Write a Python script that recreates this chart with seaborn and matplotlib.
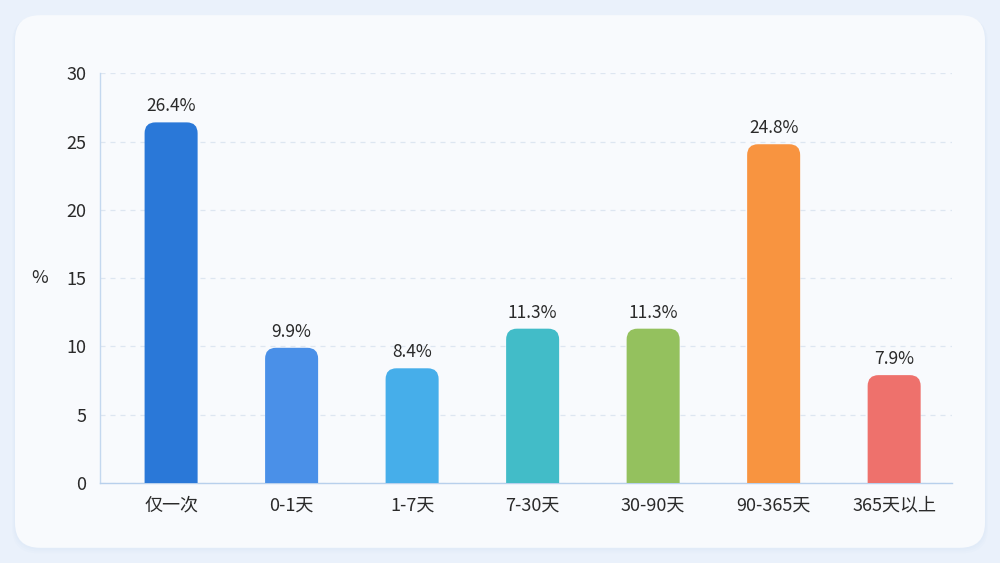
import pandas as pd
import matplotlib.pyplot as plt
import seaborn as sns
from matplotlib.patches import FancyBboxPatch

# data
categories = ['仅一次', '0-1天', '1-7天', '7-30天', '30-90天', '90-365天', '365天以上']
shares = [26.4, 9.9, 8.4, 11.3, 11.3, 24.8, 7.9]
bar_colors = ['#2a78d8', '#4a90e8', '#46aeea', '#42bcc8', '#94c15e', '#f89440', '#ee716c']

df = pd.DataFrame({'cat': categories, 'share': shares})

sns.set_theme(style='white')
plt.rcParams['font.family'] = ['Noto Sans CJK SC', 'DejaVu Sans']

fig = plt.figure(figsize=(10, 5.63), dpi=100)
fig.patch.set_facecolor('#eaf1fb')

# soft shadow + card background (below the axes)
for i, a in enumerate([0.05, 0.05, 0.06]):
    d = 0.002 * (i + 1)
    sh = FancyBboxPatch((0.015 - d / 2, 0.027 - d * 1.6), 0.97 + d, 0.946 + d,
                        boxstyle='round,pad=0,rounding_size=0.026',
                        mutation_aspect=1000 / 563,
                        transform=fig.transFigure, facecolor='#b9cfec',
                        alpha=a, edgecolor='none', zorder=-11)
    fig.patches.append(sh)
card = FancyBboxPatch((0.015, 0.027), 0.97, 0.946,
                      boxstyle='round,pad=0,rounding_size=0.025',
                      mutation_aspect=1000 / 563,
                      transform=fig.transFigure, facecolor='#f8fafd',
                      edgecolor='none', zorder=-10)
fig.patches.append(card)

ax = fig.add_axes([0.10, 0.142, 0.852, 0.728])
ax.set_facecolor('none')

sns.barplot(data=df, x='cat', y='share', hue='cat', palette=bar_colors,
            width=0.44, saturation=1, legend=False, ax=ax)

ax.set_xlim(-0.59, 6.48)
ax.set_ylim(0, 30)

# replace plain bars with round-topped ones
px_x = 852 / 7.07
px_y = 410 / 30
for p in list(ax.patches):
    x0, w, h = p.get_x(), p.get_width(), p.get_height()
    col = p.get_facecolor()
    p.set_visible(False)
    rb = FancyBboxPatch((x0, -2), w, h + 2,
                        boxstyle='round,pad=0,rounding_size=0.09',
                        mutation_aspect=px_x / px_y,
                        facecolor=col, edgecolor='none', zorder=3)
    ax.add_patch(rb)
    ax.annotate(f'{h:.1f}%', (x0 + w / 2, h), xytext=(0, 5),
                textcoords='offset points', ha='center', va='bottom',
                fontsize=12.5, color='#2a2a2a')

ax.set_yticks([0, 5, 10, 15, 20, 25, 30])
ax.yaxis.grid(True, linestyle=(0, (4, 4)), color='#dde6f1', linewidth=0.9)
ax.set_axisbelow(True)

for s in ['top', 'right']:
    ax.spines[s].set_visible(False)
ax.spines['left'].set_color('#c4d8ef')
ax.spines['bottom'].set_color('#b8d0ec')
ax.spines['left'].set_linewidth(1)
ax.spines['bottom'].set_linewidth(1)

ax.tick_params(axis='both', length=0, labelsize=13, labelcolor='#2a2a2a')
ax.tick_params(axis='y', pad=10)
ax.tick_params(axis='x', pad=10)
ax.set_xlabel('')
ax.set_ylabel('%', rotation=0, fontsize=13, color='#2a2a2a', labelpad=19, va='center')

plt.savefig('out.png', dpi=100, facecolor=fig.get_facecolor())
